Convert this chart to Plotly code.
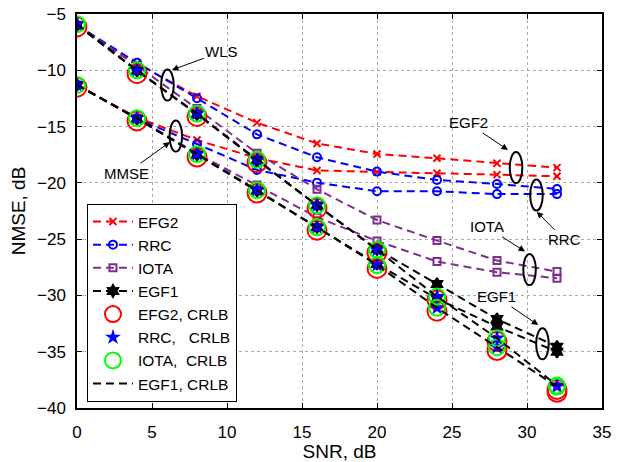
import plotly.graph_objects as go

snr = [0, 4, 8, 12, 16, 20, 24, 28, 32]

efg2_wls = [-6.0, -9.4, -12.3, -14.65, -16.5, -17.43, -17.82, -18.26, -18.65]
efg2_mmse = [-11.3, -14.2, -16.2, -17.8, -18.9, -19.05, -19.15, -19.27, -19.42]
rrc_wls = [-6.0, -9.32, -12.49, -15.69, -17.73, -19.0, -19.74, -20.1, -20.54]
rrc_mmse = [-11.3, -14.3, -16.55, -18.85, -19.98, -20.75, -20.75, -21.0, -21.0]
iota_wls = [-6.0, -9.6, -13.4, -17.37, -20.57, -23.3, -25.13, -26.9, -27.88]
iota_mmse = [-11.3, -14.3, -17.4, -20.2, -23.06, -25.16, -26.99, -27.94, -28.47]
egf1_wls = [-6.0, -10.05, -13.9, -18.0, -22.0, -25.9, -28.98, -32.1, -34.55]
egf1_mmse = [-11.3, -14.3, -17.5, -20.7, -23.95, -27.2, -30.3, -32.77, -35.0]

crlb_wls = [-5.9, -10.0, -13.85, -17.95, -22.0, -25.95, -30.1, -33.8, -38.0]
crlb_mmse = [-11.3, -14.25, -17.45, -20.65, -23.95, -27.3, -31.1, -34.6, -38.1]
efg2_crlb_wls = [-6.15, -10.3, -14.1, -18.2, -22.25, -26.2, -30.4, -34.1, -38.35]
efg2_crlb_mmse = [-11.5, -14.5, -17.7, -20.9, -24.2, -27.6, -31.4, -34.9, -38.6]

x_ticks = [0, 5, 10, 15, 20, 25, 30, 35]
y_ticks = [-40, -35, -30, -25, -20, -15, -10, -5]

RED = "rgb(255,0,0)"
BLUE = "rgb(0,0,255)"
PURPLE = "rgb(126,47,142)"
GREEN = "rgb(0,255,0)"
BLACK = "rgb(0,0,0)"
DASH = "8px,5px"

fig = go.Figure()

def method(name, ys, color, symbol, size, show):
    mk = dict(symbol=symbol, size=size, color=color,
              line=dict(color=color, width=2))
    fig.add_trace(go.Scatter(
        x=snr, y=ys, mode="lines+markers", name=name,
        line=dict(color=color, width=2, dash=DASH),
        marker=mk, showlegend=show, legendgroup=name))

for ys, show in [(efg2_wls, True), (efg2_mmse, False)]:
    method("EFG2", ys, RED, "x-thin", 7, show)
for ys, show in [(rrc_wls, True), (rrc_mmse, False)]:
    method("RRC", ys, BLUE, "circle-open", 8, show)
for ys, show in [(iota_wls, True), (iota_mmse, False)]:
    method("IOTA", ys, PURPLE, "square-open", 7, show)
for ys, show in [(egf1_wls, True), (egf1_mmse, False)]:
    method("EGF1", ys, BLACK, "hexagram", 9, show)

for ys, show in [(efg2_crlb_wls, True), (efg2_crlb_mmse, False)]:
    fig.add_trace(go.Scatter(
        x=snr, y=ys, mode="markers", name="EFG2, CRLB",
        marker=dict(symbol="circle-open", size=19, color=RED, line=dict(color=RED, width=2)),
        showlegend=show, legendgroup="efg2c"))
for ys, show in [(crlb_wls, True), (crlb_mmse, False)]:
    fig.add_trace(go.Scatter(
        x=snr, y=ys, mode="markers", name="RRC,   CRLB",
        marker=dict(symbol="star", size=12, color=BLUE, line=dict(width=0)),
        showlegend=show, legendgroup="rrcc"))
for ys, show in [(crlb_wls, True), (crlb_mmse, False)]:
    fig.add_trace(go.Scatter(
        x=snr, y=ys, mode="markers", name="IOTA,  CRLB",
        marker=dict(symbol="circle-open", size=16, color=GREEN, line=dict(color=GREEN, width=2)),
        showlegend=show, legendgroup="iotac"))
for ys, show in [(crlb_wls, True), (crlb_mmse, False)]:
    fig.add_trace(go.Scatter(
        x=snr, y=ys, mode="lines", name="EGF1, CRLB",
        line=dict(color=BLACK, width=2, dash=DASH),
        showlegend=show, legendgroup="egf1c"))

# ellipses (centre x, centre y in data units)
ellipses = [(6.03, -11.31), (6.59, -15.84), (29.27, -18.64), (30.63, -21.08),
            (30.17, -27.7), (31.03, -34.3)]
hw, hh = 0.42, 1.38
for cx, cy in ellipses:
    fig.add_shape(type="circle", xref="x", yref="y",
                  x0=cx - hw, x1=cx + hw, y0=cy - hh, y1=cy + hh,
                  line=dict(color=BLACK, width=2))

labels = [
    ("WLS", 9.65, -8.35, 6.33, -9.97),
    ("MMSE", 3.31, -19.15, 6.2, -16.37),
    ("EGF2", 26.07, -14.68, 28.73, -17.08),
    ("RRC", 32.5, -25.07, 30.65, -22.56),
    ("IOTA", 27.3, -23.9, 29.87, -26.1),
    ("EGF1", 27.98, -30.12, 30.75, -32.63),
]
for txt, tx, ty, hx, hy in labels:
    fig.add_annotation(x=hx, y=hy, ax=tx, ay=ty, xref="x", yref="y",
                       axref="x", ayref="y", text=txt, showarrow=True,
                       arrowhead=2, arrowsize=1.3, arrowwidth=1, arrowcolor=BLACK,
                       font=dict(size=15, color=BLACK), standoff=0, startstandoff=0)

axis_common = dict(showline=True, linecolor=BLACK, linewidth=1.5, mirror="ticks",
                   ticks="inside", ticklen=5, tickcolor=BLACK,
                   showgrid=True, gridcolor="rgb(170,170,170)", griddash="dot",
                   gridwidth=1, zeroline=False, automargin=False,
                   tickfont=dict(size=17, color=BLACK))

fig.update_xaxes(range=[0, 35], tickvals=x_ticks,
                 title=dict(text="SNR, dB", font=dict(size=19, color=BLACK), standoff=4),
                 ticklabelstandoff=8, **axis_common)
fig.update_yaxes(range=[-40, -5], tickvals=y_ticks,
                 title=dict(text="NMSE, dB", font=dict(size=19, color=BLACK), standoff=6),
                 ticklabelstandoff=6, **axis_common)

fig.update_layout(
    width=617, height=462,
    margin=dict(l=77, r=15, t=14, b=54, autoexpand=False),
    paper_bgcolor="white", plot_bgcolor="white",
    font=dict(family="Liberation Sans, Arial, sans-serif", color=BLACK),
    legend=dict(x=0.019, y=0.518, xanchor="left", yanchor="top",
                bgcolor="white", bordercolor=BLACK, borderwidth=1,
                font=dict(size=15.5, color=BLACK), tracegroupgap=0,
                itemwidth=40, traceorder="normal"),
    showlegend=True,
)

fig.write_html("out.html")
